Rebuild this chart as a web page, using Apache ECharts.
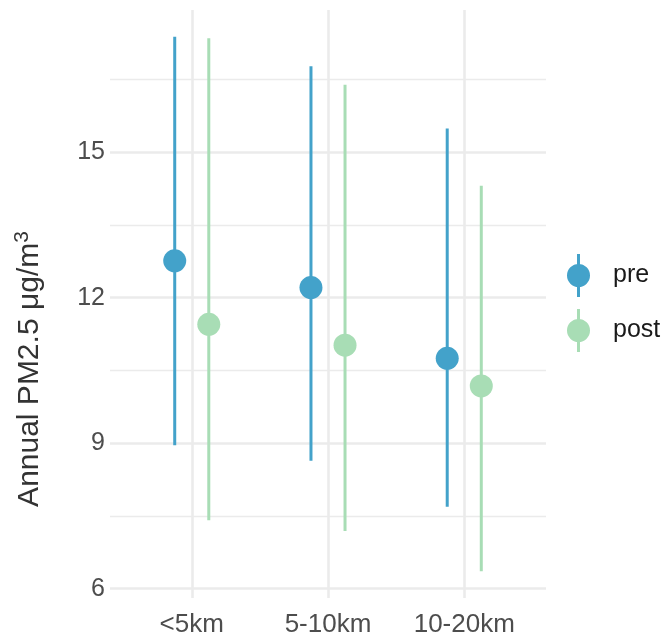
<!DOCTYPE html>
<html>
<head>
<meta charset="utf-8">
<script src="https://cdn.jsdelivr.net/npm/echarts@6/dist/echarts.min.js"></script>
<style>
  html, body { margin: 0; padding: 0; background: #fff; }
  #chart { width: 668px; height: 640px; }
</style>
</head>
<body>
<div id="chart"></div>
<script>
// distance bands
const categories = ['<5km', '5-10km', '10-20km'];

// pre period: mean and range
const preMean = [12.76, 12.21, 10.75];
const preLow = [8.96, 8.64, 7.69];
const preHigh = [17.38, 16.77, 15.49];

// post period: mean and range
const postMean = [11.45, 11.02, 10.18];
const postLow = [7.41, 7.19, 6.36];
const postHigh = [17.35, 16.39, 14.31];

const majorTicks = [6, 9, 12, 15];
const minorTicks = [7.5, 10.5, 13.5, 16.5];

const preColor = '#43a2ca';
const postColor = '#a8ddb5';
const gridColor = '#ebebeb';
const font = 'Liberation Sans, Arial, sans-serif';
const dodge = 0.125;

const chart = echarts.init(document.getElementById('chart'));

// pointrange legend key: circle with a vertical line through it
const keyIcon = 'path://M0,21.5 A11.5,11.5 0 1 1 23,21.5 A11.5,11.5 0 1 1 0,21.5 Z M10,0 L13,0 L13,43 L10,43 Z';

const rangeData = (low, high) => categories.map((c, i) => [i + 1, low[i], high[i]]);
const pointData = (mean, off) => categories.map((c, i) => [i + 1 + off, mean[i]]);

const errorBar = (name, color, low, high, off) => ({
  name: name,
  type: 'custom',
  itemStyle: { color: color },
  data: rangeData(low, high),
  renderItem: (params, api) => {
    const x = api.value(0) + off;
    const p1 = api.coord([x, api.value(1)]);
    const p2 = api.coord([x, api.value(2)]);
    return {
      type: 'line',
      shape: { x1: p1[0], y1: p1[1], x2: p2[0], y2: p2[1] },
      style: { stroke: color, lineWidth: 3 }
    };
  },
  z: 3
});

const points = (name, color, mean, off) => ({
  name: name,
  type: 'scatter',
  symbol: 'circle',
  symbolSize: 23,
  itemStyle: { color: color, opacity: 1 },
  data: pointData(mean, off),
  z: 4
});

const option = {
  animation: false,
  backgroundColor: '#fff',
  grid: { left: 110, right: 122, top: 10, bottom: 42, containLabel: false },
  legend: {
    data: ['pre', 'post'],
    orient: 'vertical',
    left: 567,
    top: 254,
    padding: 0,
    itemGap: 12,
    itemWidth: 23,
    itemHeight: 43,
    icon: keyIcon,
    selectedMode: false,
    textStyle: { fontSize: 25, color: '#1a1a1a', fontFamily: font, padding: [0, 0, 0, 18] }
  },
  xAxis: {
    type: 'value',
    min: 0.4,
    max: 3.6,
    axisLine: { show: false },
    axisTick: { show: false, customValues: [1, 2, 3] },
    axisLabel: {
      customValues: [1, 2, 3],
      formatter: v => categories[Math.round(v) - 1],
      fontSize: 26,
      color: '#4d4d4d',
      fontFamily: font,
      margin: 14
    },
    splitLine: { show: true, lineStyle: { color: gridColor, width: 2.6 } }
  },
  yAxis: [
    {
      type: 'value',
      min: 5.809,
      max: 17.931,
      axisLine: { show: false },
      axisTick: { show: false, customValues: majorTicks },
      axisLabel: {
        customValues: majorTicks,
        fontSize: 25,
        color: '#4d4d4d',
        fontFamily: font,
        margin: 5
      },
      splitLine: { show: true, lineStyle: { color: gridColor, width: 2.6 } },
      name: '{a|Annual PM2.5 μg/m}{s|3}',
      nameLocation: 'middle',
      nameGap: 62,
      nameTextStyle: {
        padding: [0, 130, 0, 0],
        rich: {
          a: { fontSize: 30, color: '#333333', fontFamily: font, lineHeight: 36 },
          s: { fontSize: 21, color: '#333333', fontFamily: font, verticalAlign: 'top' }
        }
      }
    },
    {
      type: 'value',
      min: 5.809,
      max: 17.931,
      position: 'left',
      axisLine: { show: false },
      axisTick: { show: false, customValues: minorTicks },
      axisLabel: { show: false },
      splitLine: { show: true, lineStyle: { color: gridColor, width: 1.3 } }
    }
  ],
  series: [
    errorBar('pre', preColor, preLow, preHigh, -dodge),
    points('pre', preColor, preMean, -dodge),
    errorBar('post', postColor, postLow, postHigh, dodge),
    points('post', postColor, postMean, dodge)
  ]
};

chart.setOption(option);
</script>
</body>
</html>
